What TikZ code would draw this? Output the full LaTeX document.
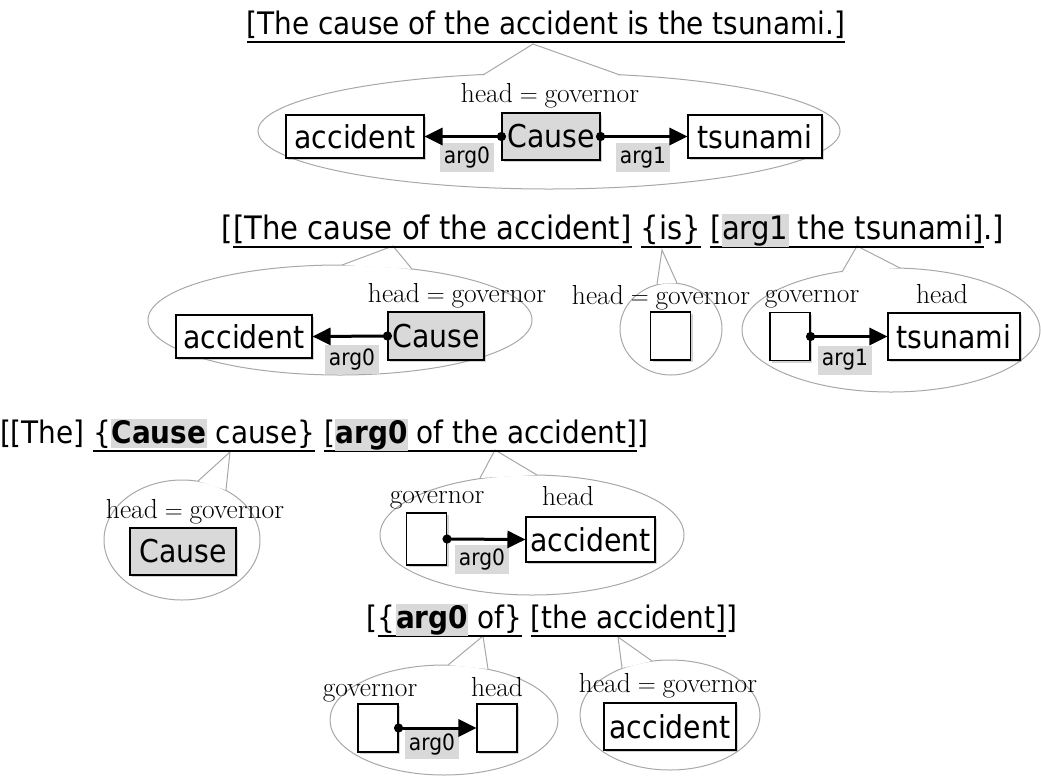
\documentclass[tikz,border=0pt]{standalone}
\usepackage{fontspec}
\usetikzlibrary{shadows,arrows.meta,calc}
\newfontfamily\sansfam{DejaVu Sans Condensed}
\definecolor{hlgray}{HTML}{D9D9D9}
\definecolor{bubgray}{HTML}{A8A8A8}
\newcommand\ttlfont{\sansfam\fontsize{31}{36}\selectfont}
\newcommand\ttlfontb{\sansfam\fontsize{32.3}{37}\selectfont}
\newcommand\boxfont{\sansfam\fontsize{31.5}{36}\selectfont}
\newcommand\argfont{\sansfam\fontsize{22.5}{26}\selectfont}
\newcommand\serfont{\rmfamily\fontsize{27.5}{32}\selectfont}
\newsavebox\ulbox
\newcommand\ul[1]{\sbox\ulbox{#1}\leavevmode\rlap{\vrule width\wd\ulbox height -6.5pt depth 8.5pt}\usebox\ulbox}
\newcommand\hl[1]{{\setlength\fboxsep{0.5pt}\colorbox{hlgray}{\vphantom{[}#1}}}
\newcommand\hg{head${}={}$governor}
\newcommand\bubtail[3]{\fill[white] #1 -- #2 -- #3 -- cycle; \draw[tl] #2 -- #1 -- #3;}
\begin{document}
\begin{tikzpicture}[x=1pt,y=-1pt,
  box/.style={draw, line width=1.1pt, fill=white, inner sep=0pt, font=\boxfont,
    drop shadow={shadow xshift=2pt,shadow yshift=-2pt,opacity=.35}},
  gbox/.style={box, fill=hlgray},
  ebox/.style={box, minimum width=40pt, minimum height=48pt},
  lab/.style={fill=hlgray, inner sep=0pt, minimum width=54pt, minimum height=29pt, font=\argfont},
  conn/.style={line width=3pt, {Circle[length=9pt]}-{Triangle[length=18pt,width=17pt]}, shorten <=-4.5pt},
  bub/.style={draw=bubgray, line width=1pt, fill=white},
  tl/.style={draw=bubgray, line width=1pt},
  ser/.style={font=\serfont, anchor=base, inner sep=0pt},
  ttl/.style={font=\ttlfont, anchor=base, inner sep=0pt}]
\useasboundingbox (0,0) rectangle (1041,780);
% bubbles
\draw[bub] (549,131) ellipse (291 and 58);
\draw[bub] (340,320) ellipse (192 and 55);
\draw[bub] (671,329) ellipse (51 and 46);
\draw[bub] (891,330) ellipse (149 and 62);
\draw[bub] (182,540) ellipse (78 and 60);
\draw[bub] (532,535) ellipse (152 and 60);
\draw[bub] (444,720) ellipse (114 and 55);
\draw[bub] (670,715) ellipse (90 and 55);
\bubtail{(533,44)}{(483,75)}{(620,75)}
\bubtail{(393,246)}{(342,265)}{(412,269)}
\bubtail{(662,250)}{(657,284)}{(677,283)}
\bubtail{(857,246)}{(842,272)}{(900,268)}
\bubtail{(230,452)}{(198,481)}{(226,490)}
\bubtail{(495,450)}{(480,478)}{(537,475)}
\bubtail{(483,636)}{(448,665)}{(488,669)}
\bubtail{(618,637)}{(622,668)}{(652,661)}
% row 1
\node[ser] (h1) at (550,102) {\hg};
\node[box, minimum width=138pt, minimum height=43pt] (acc1) at (355,136.5) {accident};
\node[gbox, minimum width=98pt, minimum height=47pt] (cau1) at (551,136.5) {Cause};
\node[box, minimum width=134pt, minimum height=43pt] (tsu1) at (755,136.5) {tsunami};
\node[lab] (a1l) at (467,157.5) {arg0};
\node[lab] (a1r) at (643,157.5) {arg1};
\draw[conn] (cau1.west) -- (acc1.east);
\draw[conn] (cau1.east) -- (tsu1.west);
% row 2
\node[ser] (h2a) at (457,302) {\hg};
\node[box, minimum width=136pt, minimum height=43pt] (acc2) at (244,336.5) {accident};
\node[gbox, minimum width=96pt, minimum height=48pt] (cau2) at (436,336) {Cause};
\node[lab] (a2) at (352,359) {arg0};
\draw[conn] (cau2.west) -- (acc2.east);
\node[ser] (h2b) at (661,304) {\hg};
\node[ebox] (e2b) at (670.5,336) {};
\node[ser] (g2c) at (812,302) {governor};
\node[ser] (hd2c) at (942,303) {head};
\node[ebox] (e2c) at (790,336.5) {};
\node[box, minimum width=132pt, minimum height=47pt] (tsu2) at (954,336.5) {tsunami};
\node[lab] (a2c) at (845,360) {arg1};
\draw[conn] (e2c.east) -- (tsu2.west);
% row 3
\node[ser] (h3a) at (195,518) {\hg};
\node[gbox, minimum width=106pt, minimum height=47pt] (cau3) at (183,551.5) {Cause};
\node[ser] (g3b) at (437,503) {governor};
\node[ser] (hd3b) at (568,505) {head};
\node[ebox, minimum height=52pt] (e3b) at (426.5,539) {};
\node[box, minimum width=129pt, minimum height=45pt] (acc3) at (590.5,539.5) {accident};
\node[lab] (a3) at (482,559) {arg0};
\draw[conn] (e3b.east) -- (acc3.west);
% row 4
\node[ser] (g4a) at (370,696) {governor};
\node[ser] (hd4a) at (497,696) {head};
\node[ebox] (e4a) at (378,728) {};
\node[ebox] (e4b) at (497,728) {};
\node[lab] (a4) at (432,744) {arg0};
\draw[conn] (e4a.east) -- (e4b.west);
\node[ser] (h4b) at (668,692) {\hg};
\node[box, minimum width=132pt, minimum height=47pt] (acc4) at (670,726.5) {accident};
% titles
\node[ttl] (t1) at (546,34.5) {\ul{[The cause of the accident is the tsunami.]}};
\node[ttl, font=\ttlfontb] (t2) at (613,239.5) {[\ul{[The cause of the accident]} \ul{\{is\}} \ul{[\hl{arg1} the tsunami]}.]};
\node[ttl] (t3) at (324,443.5) {[[The] \ul{\{\hl{\textbf{Cause}} cause\}} \ul{[\hl{\textbf{arg0}} of the accident]}]};
\node[ttl] (t4) at (552,628.5) {[\ul{\{\hl{\textbf{arg0}} of\}} \ul{[the accident]}]};
\end{tikzpicture}
\end{document}
